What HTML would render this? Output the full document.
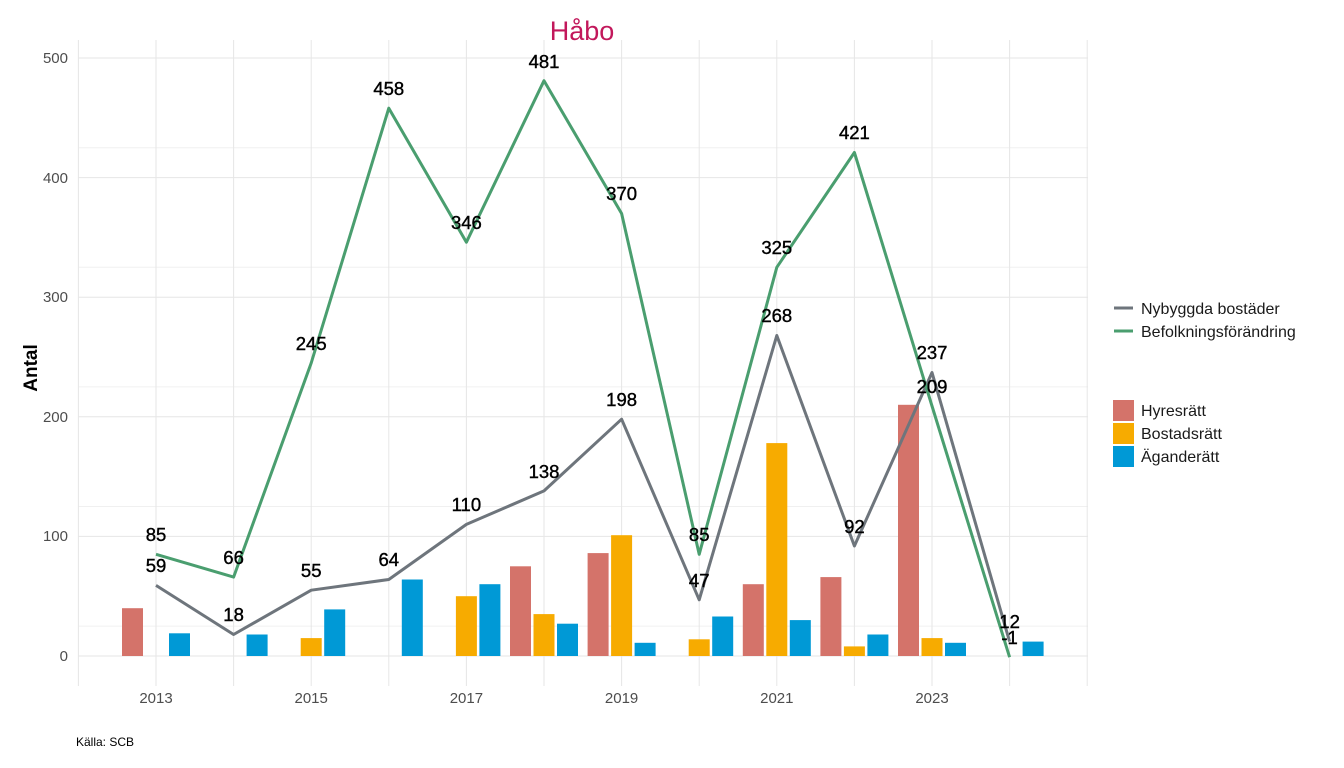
<!DOCTYPE html>
<html><head><meta charset="utf-8"><style>body{margin:0;background:#fff}svg{display:block}text{font-family:"Liberation Sans",sans-serif}</style></head><body>
<svg width="1344" height="768" viewBox="0 0 1344 768">
<rect width="1344" height="768" fill="#fff"/>
<g stroke="#f0f0f0" stroke-width="1">
<line x1="78" x2="1088" y1="626.1" y2="626.1"/><line x1="78" x2="1088" y1="506.5" y2="506.5"/><line x1="78" x2="1088" y1="386.9" y2="386.9"/><line x1="78" x2="1088" y1="267.3" y2="267.3"/><line x1="78" x2="1088" y1="147.7" y2="147.7"/>
</g>
<g stroke="#e6e6e6" stroke-width="1">
<line x1="78" x2="1088" y1="656" y2="656"/><line x1="78" x2="1088" y1="536.4" y2="536.4"/><line x1="78" x2="1088" y1="416.8" y2="416.8"/><line x1="78" x2="1088" y1="297.2" y2="297.2"/><line x1="78" x2="1088" y1="177.6" y2="177.6"/><line x1="78" x2="1088" y1="58" y2="58"/>
<line x1="78.4" x2="78.4" y1="40" y2="686"/><line x1="156" x2="156" y1="40" y2="686"/><line x1="233.6" x2="233.6" y1="40" y2="686"/><line x1="311.2" x2="311.2" y1="40" y2="686"/><line x1="388.8" x2="388.8" y1="40" y2="686"/><line x1="466.4" x2="466.4" y1="40" y2="686"/><line x1="544" x2="544" y1="40" y2="686"/><line x1="621.6" x2="621.6" y1="40" y2="686"/><line x1="699.2" x2="699.2" y1="40" y2="686"/><line x1="776.8" x2="776.8" y1="40" y2="686"/><line x1="854.4" x2="854.4" y1="40" y2="686"/><line x1="932" x2="932" y1="40" y2="686"/><line x1="1009.6" x2="1009.6" y1="40" y2="686"/><line x1="1087.2" x2="1087.2" y1="40" y2="686"/>
</g>
<g fill="#d4736a">
<rect x="122" y="608.2" width="21" height="47.8"/><rect x="510" y="566.3" width="21" height="89.7"/><rect x="587.6" y="553.1" width="21" height="102.9"/><rect x="742.8" y="584.2" width="21" height="71.8"/><rect x="820.4" y="577.1" width="21" height="78.9"/><rect x="898" y="404.8" width="21" height="251.2"/>
</g>
<g fill="#f7ab00">
<rect x="300.7" y="638.1" width="21" height="17.9"/><rect x="455.9" y="596.2" width="21" height="59.8"/><rect x="533.5" y="614.1" width="21" height="41.9"/><rect x="611.1" y="535.2" width="21" height="120.8"/><rect x="688.7" y="639.3" width="21" height="16.7"/><rect x="766.3" y="443.1" width="21" height="212.9"/><rect x="843.9" y="646.4" width="21" height="9.6"/><rect x="921.5" y="638.1" width="21" height="17.9"/>
</g>
<g fill="#0099d6">
<rect x="169" y="633.3" width="21" height="22.7"/><rect x="246.6" y="634.5" width="21" height="21.5"/><rect x="324.2" y="609.4" width="21" height="46.6"/><rect x="401.8" y="579.5" width="21" height="76.5"/><rect x="479.4" y="584.2" width="21" height="71.8"/><rect x="557" y="623.7" width="21" height="32.3"/><rect x="634.6" y="642.8" width="21" height="13.2"/><rect x="712.2" y="616.5" width="21" height="39.5"/><rect x="789.8" y="620.1" width="21" height="35.9"/><rect x="867.4" y="634.5" width="21" height="21.5"/><rect x="945" y="642.8" width="21" height="13.2"/><rect x="1022.6" y="641.6" width="21" height="14.4"/>
</g>
<polyline fill="none" stroke="#6e757c" stroke-width="3" stroke-linejoin="round" points="156,585.4 233.6,634.5 311.2,590.2 388.8,579.5 466.4,524.4 544,490.9 621.6,419.2 699.2,599.8 776.8,335.5 854.4,546 932,372.5 1009.6,641.6"/>
<polyline fill="none" stroke="#4a9e6f" stroke-width="3" stroke-linejoin="round" points="156,554.3 233.6,577.1 311.2,363 388.8,108.2 466.4,242.2 544,80.7 621.6,213.5 699.2,554.3 776.8,267.3 854.4,152.5 932,406 1009.6,657.2"/>
<g font-size="18.5" fill="#000" stroke="#000" stroke-width="0.4" text-anchor="middle">
<text x="156" y="572">59</text><text x="233.6" y="621">18</text><text x="311.2" y="577">55</text><text x="388.8" y="566">64</text><text x="466.4" y="511">110</text><text x="544" y="478">138</text><text x="621.6" y="406">198</text><text x="699.2" y="587">47</text><text x="776.8" y="322">268</text><text x="854.4" y="533">92</text><text x="932" y="359">237</text><text x="1009.6" y="628">12</text>
<text x="156" y="541">85</text><text x="233.6" y="564">66</text><text x="311.2" y="350">245</text><text x="388.8" y="95">458</text><text x="466.4" y="229">346</text><text x="544" y="68">481</text><text x="621.6" y="200">370</text><text x="699.2" y="541">85</text><text x="776.8" y="254">325</text><text x="854.4" y="139">421</text><text x="932" y="393">209</text><text x="1009.6" y="644">-1</text>
</g>
<g font-size="15" fill="#4d4d4d" text-anchor="end">
<text x="68" y="661">0</text><text x="68" y="541">100</text><text x="68" y="422">200</text><text x="68" y="302">300</text><text x="68" y="183">400</text><text x="68" y="63">500</text>
</g>
<g font-size="15" fill="#4d4d4d" text-anchor="middle">
<text x="156" y="703">2013</text><text x="311.2" y="703">2015</text><text x="466.4" y="703">2017</text><text x="621.6" y="703">2019</text><text x="776.8" y="703">2021</text><text x="932" y="703">2023</text>
</g>
<text transform="translate(37,368) rotate(-90)" font-size="19" font-weight="bold" text-anchor="middle">Antal</text>
<text x="582" y="40" font-size="27" fill="#c2185b" text-anchor="middle">Håbo</text>
<text x="76" y="746" font-size="12" fill="#000">Källa: SCB</text>
<line x1="1114" x2="1133" y1="308" y2="308" stroke="#6e757c" stroke-width="3"/>
<line x1="1114" x2="1133" y1="331" y2="331" stroke="#4a9e6f" stroke-width="3"/>
<g font-size="16" fill="#1a1a1a">
<text x="1141" y="314">Nybyggda bostäder</text><text x="1141" y="337">Befolkningsförändring</text>
<text x="1141" y="416">Hyresrätt</text><text x="1141" y="439">Bostadsrätt</text><text x="1141" y="462">Äganderätt</text>
</g>
<rect x="1113" y="400" width="21" height="21" fill="#d4736a"/>
<rect x="1113" y="423" width="21" height="21" fill="#f7ab00"/>
<rect x="1113" y="446" width="21" height="21" fill="#0099d6"/>
</svg>
</body></html>
